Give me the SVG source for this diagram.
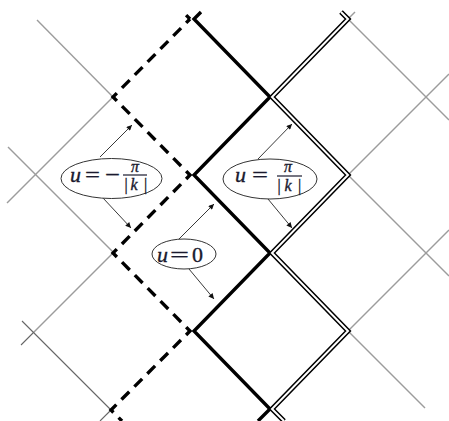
<svg xmlns="http://www.w3.org/2000/svg" width="449" height="421" viewBox="0 0 449 421">
<style>
  .grid { fill: none; stroke: #9c9c9c; stroke-width: 1.4; }
  .grid-dark { fill: none; stroke: #666; stroke-width: 1.1; }
  .thick { fill: none; stroke: #000; stroke-width: 3.4; stroke-linejoin: miter; }
  .dash { fill: none; stroke: #000; stroke-width: 3.4; stroke-linejoin: miter; stroke-dasharray: 11 7.27; stroke-dashoffset: 5.5; }
  .dbl-o { fill: none; stroke: #000; stroke-width: 5; stroke-linejoin: miter; }
  .dbl-i { fill: none; stroke: #fff; stroke-width: 2; stroke-linejoin: miter; }
  .bubble { fill: #fff; stroke: #333; stroke-width: 1; }
  .arrow { fill: none; stroke: #222; stroke-width: 0.9; marker-end: url(#ah); }
  .bar { stroke: #1a1a2e; stroke-width: 1.2; }
  text { font-family: "Liberation Serif", "Times New Roman", serif; fill: #1a1a2e; stroke: #1a1a2e; stroke-width: 0.35; }
  .mi { font-style: italic; font-size: 22px; }
  .mo { font-size: 22px; }
  .sm { font-size: 16px; }
  .it { font-style: italic; }
</style>
<defs>
  <marker id="ah" viewBox="0 0 10 10" refX="10" refY="5" markerWidth="7" markerHeight="5.5" markerUnits="userSpaceOnUse" orient="auto">
    <path d="M0,0 L10,5 L0,10 z" fill="#111"/>
  </marker>
</defs>
<rect width="449" height="421" fill="#fff"/>

<g id="grid-lines">
  <line class="grid" x1="37" y1="20" x2="113" y2="97"/>
  <line class="grid" x1="113" y1="97" x2="7" y2="203"/>
  <line class="grid" x1="8" y1="147" x2="113" y2="252"/>
  <line class="grid" x1="113" y1="253" x2="33" y2="333"/>
  <line class="grid-dark" x1="33" y1="333" x2="21" y2="345"/>
  <line class="grid-dark" x1="22" y1="321" x2="111" y2="410"/>
  <line class="grid-dark" x1="111" y1="410" x2="100" y2="421"/>
  <line class="grid" x1="348" y1="19" x2="355" y2="12"/>
  <line class="grid" x1="348" y1="19" x2="449" y2="120"/>
  <line class="grid" x1="348" y1="175" x2="449" y2="74"/>
  <line class="grid" x1="348" y1="175" x2="449" y2="276"/>
  <line class="grid" x1="449" y1="230" x2="348" y2="331"/>
  <line class="grid" x1="348" y1="331" x2="425" y2="408"/>
</g>

<g id="dashed-curve">
  <path class="dash" d="M190,19 L183,12"/>
  <path class="dash" d="M190,19 L113,97 L190,175 L113,253 L190,331 L111,410 L122,421"/>
</g>

<g id="thick-curve">
  <path class="thick" d="M201,12 L194,19 L270,97 L194,175 L270,253 L194,331 L270,409 L258,421"/>
</g>

<g id="double-curve">
  <path class="dbl-o" d="M341,12 L348,19 L272,97 L348,175 L272,253 L348,331 L272,409 L284,421"/>
  <path class="dbl-i" d="M341,12 L348,19 L272,97 L348,175 L272,253 L348,331 L272,409 L284,421"/>
</g>

<g id="connectors">
  <line class="arrow" x1="100" y1="157" x2="132" y2="125"/>
  <line class="arrow" x1="103" y1="198" x2="131" y2="228"/>
  <line class="arrow" x1="258" y1="159" x2="292" y2="124"/>
  <line class="arrow" x1="268" y1="199" x2="292" y2="228"/>
  <line class="arrow" x1="179" y1="239" x2="214" y2="204"/>
  <line class="arrow" x1="189" y1="269" x2="214" y2="299"/>
</g>

<g id="node-u-minus-pi-over-k">
  <ellipse class="bubble" cx="111.5" cy="178.5" rx="50.5" ry="20"/>
  <text class="mi" x="70" y="182">u</text>
  <text class="mo" x="85" y="182" textLength="15" lengthAdjust="spacingAndGlyphs">=</text>
  <text class="mo" x="105" y="182" textLength="15" lengthAdjust="spacingAndGlyphs">−</text>
  <text class="sm it" x="131" y="172">π</text>
  <line class="bar" x1="123" y1="175" x2="147" y2="175"/>
  <text class="sm"><tspan x="124.5" y="190">|</tspan><tspan class="it" x="130.5" y="190">k</tspan><tspan x="144" y="190">|</tspan></text>
</g>

<g id="node-u-pi-over-k">
  <ellipse class="bubble" cx="270" cy="179" rx="47" ry="20"/>
  <text class="mi" x="235" y="182">u</text>
  <text class="mo" x="252" y="182" textLength="16" lengthAdjust="spacingAndGlyphs">=</text>
  <text class="sm it" x="284" y="172">π</text>
  <line class="bar" x1="277" y1="176" x2="302" y2="176"/>
  <text class="sm"><tspan x="277.5" y="191">|</tspan><tspan class="it" x="284.5" y="191">k</tspan><tspan x="298" y="191">|</tspan></text>
</g>

<g id="node-u-zero">
  <ellipse class="bubble" cx="184" cy="254" rx="32" ry="15"/>
  <text class="mi" x="157" y="262">u</text>
  <text class="mo" x="170" y="262" textLength="19" lengthAdjust="spacingAndGlyphs">=</text>
  <text class="mo" x="192" y="262" font-size="23">0</text>
</g>
</svg>
